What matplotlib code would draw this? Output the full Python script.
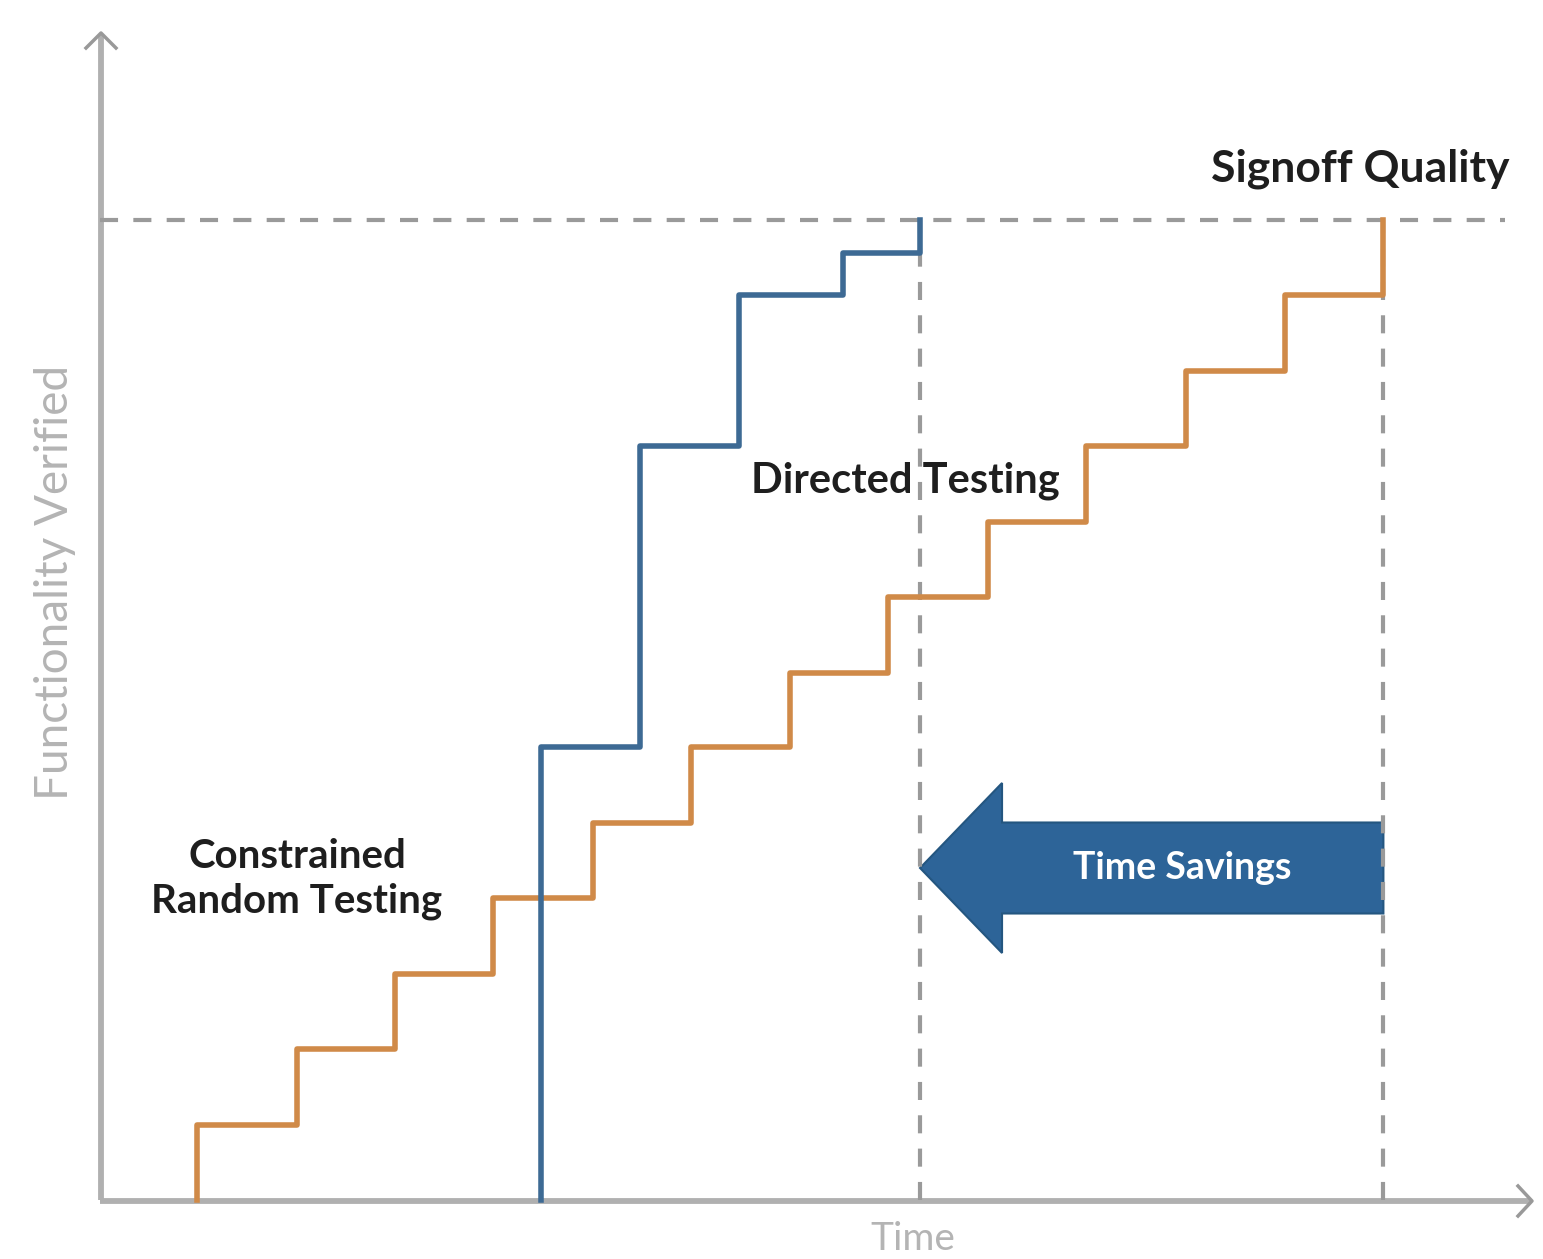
import matplotlib
matplotlib.use("Agg")
import matplotlib.pyplot as plt
from matplotlib.patches import FancyArrow

# ---------------- data ----------------
# Constrained random testing (orange): step times and functionality levels (%)
crt_start = 0.98
crt_times = [0.98, 1.99, 2.99, 3.98, 4.99, 5.98, 6.98, 7.98, 8.99, 9.98, 10.99, 11.99, 12.99]
crt_levels = [7.7, 15.4, 23.1, 30.8, 38.5, 46.2, 53.8, 61.5, 69.2, 76.9, 84.6, 92.3, 100.0]

# Directed testing (blue)
dt_start = 4.46
dt_times = [4.46, 5.47, 6.47, 7.52, 8.30]
dt_levels = [46.2, 76.9, 92.3, 96.6, 100.0]

signoff_level = 100.0
directed_done = 8.30
random_done = 12.99

# ---------------- layout helpers (pixel -> data) ----------------
W, H = 1543, 1259
X0, XS = 100.0, 98.8
Y0, YS = 1200.0, 9.8
def X(px):
    return (px - X0) / XS
def Y(py):
    return (Y0 - py) / YS

plt.rcParams['lines.scale_dashes'] = False
fig = plt.figure(figsize=(W / 100, H / 100), dpi=100)
ax = fig.add_axes([0, 0, 1, 1])
ax.set_xlim(X(0), X(W))
ax.set_ylim(Y(H), Y(0))
ax.axis('off')

axis_col = '#b0b0b0'
dash_col = '#9a9a9a'
orange = '#d08a48'
blue = '#3d6a94'
arrow_col = '#2d6498'
txt_col = '#1e1e1e'
bold_font = ['Lato', 'DejaVu Sans']
light_font = ['Lato', 'DejaVu Sans']

# axes with open arrowheads
ax.plot([X(101), X(101)], [Y(1200), Y(34)], color=axis_col, lw=4.2, solid_capstyle='butt', zorder=2)
ax.plot([X(100), X(1530)], [Y(1201), Y(1201)], color=axis_col, lw=4.2, solid_capstyle='butt', zorder=2)
ax.plot([X(86), X(101), X(116)], [Y(48), Y(33), Y(48)], color='#999999', lw=2.5, zorder=2)
ax.plot([X(1518), X(1532), X(1518)], [Y(1186), Y(1201), Y(1216)], color='#999999', lw=2.5, zorder=2)

# time-savings arrow
body_h = Y(822) - Y(913)
head_h = Y(783) - Y(953)
arr = FancyArrow(random_done, Y(868), -(random_done - directed_done), 0,
                 width=body_h, head_width=head_h, head_length=X(1005) - X(923),
                 length_includes_head=True, facecolor=arrow_col, edgecolor='#245680',
                 lw=1.5, zorder=3)
ax.add_patch(arr)
ax.text(X(1182), Y(868), 'Time Savings', color='white', fontsize=27, family=bold_font,
        fontweight='bold', ha='center', va='center', zorder=6)

# dashed reference lines
dash = (0, (13, 11))
ax.plot([X(100), X(1505)], [signoff_level, signoff_level], color=dash_col, lw=3, linestyle=dash, zorder=4)
ax.plot([directed_done, directed_done], [0, signoff_level], color=dash_col, lw=3, linestyle=dash, zorder=4)
ax.plot([random_done, random_done], [0, signoff_level], color=dash_col, lw=3, linestyle=dash, zorder=4)

# step curves
ax.step([crt_start] + crt_times, [0] + crt_levels, where='post', color=orange, lw=4, zorder=5)
ax.step([dt_start] + dt_times, [0] + dt_levels, where='post', color=blue, lw=4, zorder=5)

# annotations
ax.text(X(1360), Y(181), 'Signoff Quality', color=txt_col, fontsize=32, family=bold_font,
        fontweight='bold', ha='center', va='baseline', zorder=6)
ax.text(X(905), Y(492), 'Directed Testing', color=txt_col, fontsize=30, family=bold_font,
        fontweight='bold', ha='center', va='baseline', zorder=6)
ax.text(X(297), Y(868), 'Constrained', color=txt_col, fontsize=29, family=bold_font,
        fontweight='bold', ha='center', va='baseline', zorder=6)
ax.text(X(297), Y(912), 'Random Testing', color=txt_col, fontsize=29, family=bold_font,
        fontweight='bold', ha='center', va='baseline', zorder=6)

# axis titles
ax.text(X(913), Y(1257), 'Time', color='#b4b4b4', fontsize=28, family=light_font,
        ha='center', va='bottom')
ax.text(X(55), Y(582), 'Functionality Verified', color='#b4b4b4', fontsize=33,
        family=light_font, rotation=90, ha='center', va='center')

fig.savefig('out.png', dpi=100)
